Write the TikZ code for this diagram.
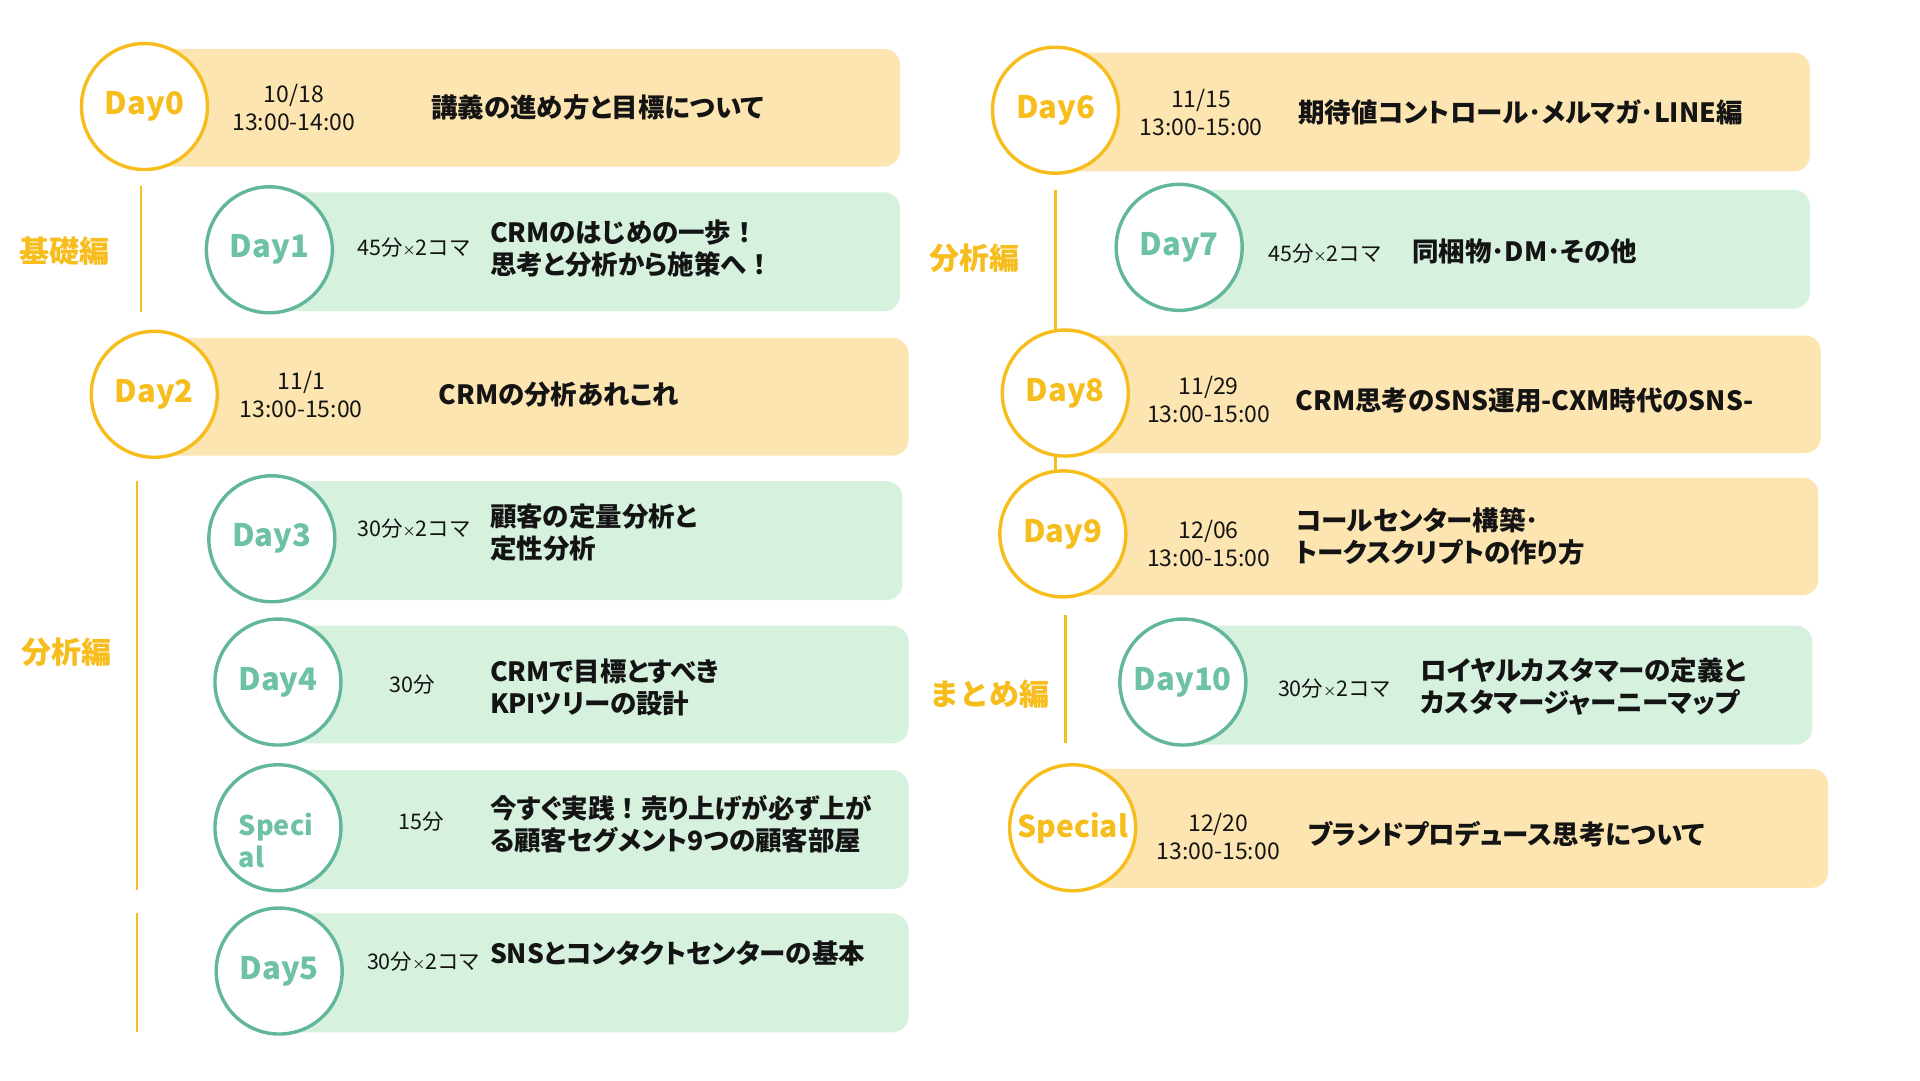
\documentclass[tikz,border=0pt]{standalone}
\usepackage{fontspec}
\setmainfont{Noto Sans CJK JP}
\newfontfamily\tfont{Noto Sans CJK JP}[RawFeature=+palt]
\definecolor{ystroke}{HTML}{F6BD1C}
\definecolor{yfill}{HTML}{FDE5B1}
\definecolor{gstroke}{HTML}{62B79A}
\definecolor{gtext}{HTML}{6CC2A2}
\definecolor{gfill}{HTML}{D6F1DE}
\definecolor{ink}{HTML}{141414}
\newcommand\smx{{\fontsize{13}{13}\selectfont ×}}
\newcommand\fwbang{{\rmfamily ！}}
\tikzset{
  circY/.style={circle,draw=ystroke,line width=3.4pt,fill=white,minimum size=126pt,inner sep=0pt,
    text=ystroke,font=\bfseries\fontsize{31}{34}\selectfont},
  circG/.style={circle,draw=gstroke,line width=3.4pt,fill=white,minimum size=126pt,inner sep=0pt,
    text=gtext,font=\bfseries\fontsize{31}{34}\selectfont},
  barY/.style={fill=yfill,rounded corners=16pt},
  barG/.style={fill=gfill,rounded corners=16pt},
  datetxt/.style={align=center,text=ink,inner sep=0pt,font=\fontsize{23}{28}\selectfont},
  durtxt/.style={text=ink,inner sep=0pt,font=\fontsize{21.5}{28}\selectfont},
  titletxt/.style={anchor=west,align=left,text=ink,inner sep=0pt,font=\tfont\bfseries\fontsize{26.5}{32}\selectfont},
  seclabel/.style={text=ystroke,inner sep=0pt,font=\bfseries\fontsize{30}{34}\selectfont},
  secline/.style={draw=ystroke,line width=2.6pt},
}
\begin{document}
\begin{tikzpicture}[x=1.2245pt,y=-1.2245pt]
\useasboundingbox[fill=white] (0,0) rectangle (1568,882);
% ---------- section lines ----------
\coordinate (l1a) at (115,152); \coordinate (l1b) at (115,255);
\coordinate (l2a) at (112,393); \coordinate (l2b) at (112,727);
\coordinate (l3a) at (112,746); \coordinate (l3b) at (112,843);
\coordinate (r1a) at (862,155); \coordinate (r1b) at (862,388);
\coordinate (r2a) at (870,502); \coordinate (r2b) at (870,607);
\draw[secline] (l1a) -- (l1b);
\draw[secline] (l2a) -- (l2b);
\draw[secline] (l3a) -- (l3b);
\draw[secline] (r1a) -- (r1b);
\draw[secline] (r2a) -- (r2b);
\node[seclabel] (s1) at (53,205) {基礎編};
\node[seclabel] (s2) at (54,533) {分析編};
\node[seclabel] (s3) at (796,211) {分析編};
\node[seclabel] (s4) at (808,567) {まとめ編};
% ---------- bars ----------
\fill[barY] (118,40) rectangle (735,136);
\fill[barG] (220,157) rectangle (735,254);
\fill[barY] (126,276) rectangle (742,372);
\fill[barG] (222,393) rectangle (737,490);
\fill[barG] (227,511) rectangle (742,607);
\fill[barG] (227,629) rectangle (742,726);
\fill[barG] (228,746) rectangle (742,843);
\fill[barY] (862,43) rectangle (1478,140);
\fill[barG] (963,155) rectangle (1478,252);
\fill[barY] (870,274) rectangle (1487,370);
\fill[barY] (868,390) rectangle (1485,486);
\fill[barG] (966,511) rectangle (1480,608);
\fill[barY] (876,628) rectangle (1493,725);
% ---------- circles ----------
\node[circY] (d0) at (118,87) {Day0};
\node[circG] (d1) at (220,204) {Day1};
\node[circY] (d2) at (126,322) {Day2};
\node[circG] (d3) at (222,440) {Day3};
\node[circG] (d4) at (227,557) {Day4};
\node[circG] (sp1) at (227,676) {};
\node[anchor=west,align=left,text=gtext,inner sep=0pt,font=\bfseries\fontsize{27}{32}\selectfont] (sp1t) at (195,686) {Speci\\al};
\node[circG] (d5) at (228,793) {Day5};
\node[circY] (d6) at (862,90) {Day6};
\node[circG] (d7) at (963,202) {Day7};
\node[circY] (d8) at (870,321) {Day8};
\node[circY] (d9) at (868,436) {Day9};
\node[circG] (d10) at (966,557) {Day10};
\node[circY,font=\bfseries\fontsize{30}{34}\selectfont] (sp2) at (876,676) {Special};
% ---------- dates / durations ----------
\node[datetxt] (t0) at (240,88) {10/18\\13:00-14:00};
\node[durtxt] (t1) at (338,202) {45分\smx 2コマ};
\node[datetxt] (t2) at (246,322) {11/1\\13:00-15:00};
\node[durtxt] (t3) at (338,432) {30分\smx 2コマ};
\node[durtxt] (t4) at (337,559) {30分};
\node[durtxt] (t5) at (344,671) {15分};
\node[durtxt] (t6) at (346,785) {30分\smx 2コマ};
\node[datetxt] (t7) at (981,92) {11/15\\13:00-15:00};
\node[durtxt] (t8) at (1082,207) {45分\smx 2コマ};
\node[datetxt] (t9) at (987,326) {11/29\\13:00-15:00};
\node[datetxt] (t10) at (987,444) {12/06\\13:00-15:00};
\node[durtxt] (t11) at (1090,562) {30分\smx 2コマ};
\node[datetxt] (t12) at (995,683) {12/20\\13:00-15:00};
% ---------- titles ----------
\node[titletxt] (h0) at (352,88) {講義の進め方と目標について};
\node[titletxt] (h1) at (400,203) {CRMのはじめの一歩\fwbang\\思考と分析から施策へ\fwbang};
\node[titletxt] (h2) at (358,322) {CRMの分析あれこれ};
\node[titletxt] (h3) at (400,435) {顧客の定量分析と\\定性分析};
\node[titletxt] (h4) at (400,561) {CRMで目標とすべき\\KPIツリーの設計};
\node[titletxt] (h5) at (400,673) {今すぐ実践\fwbang 売り上げが必ず上が\\る顧客セグメント9つの顧客部屋};
\node[titletxt] (h6) at (400,779) {SNSとコンタクトセンターの基本};
\node[titletxt] (h7) at (1060,92) {期待値コントロール･メルマガ･LINE編};
\node[titletxt] (h8) at (1153,205) {同梱物･DM･その他};
\node[titletxt] (h9) at (1058,327) {CRM思考のSNS運用-CXM時代のSNS-};
\node[titletxt] (h10) at (1058,438) {コールセンター構築･\\トークスクリプトの作り方};
\node[titletxt] (h11) at (1160,561) {ロイヤルカスタマーの定義と\\カスタマージャーニーマップ};
\node[titletxt] (h12) at (1068,681) {ブランドプロデュース思考について};
\end{tikzpicture}
\end{document}
